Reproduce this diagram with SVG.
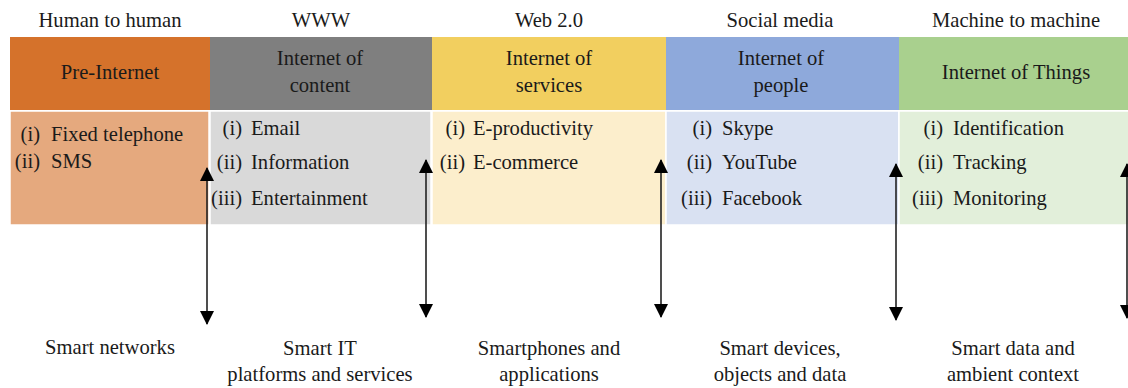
<svg xmlns="http://www.w3.org/2000/svg" width="1128" height="388" viewBox="0 0 1128 388">
<defs>
<style>
text{font-family:"Liberation Serif","Times New Roman",serif;font-size:20.6px;fill:#1a1a1a}
.c{text-anchor:middle}
.n{text-anchor:end}
.lo{stroke:#fff;stroke-width:1.5}
.ar{stroke:#222;stroke-width:1.6;fill:none;marker-start:url(#ah);marker-end:url(#ah)}
</style>
<marker id="ah" viewBox="0 0 14 14" refX="13" refY="7" markerWidth="14" markerHeight="14" markerUnits="userSpaceOnUse" orient="auto-start-reverse">
<path d="M0,0 L14,7 L0,14 Z" fill="#000"/>
</marker>
</defs>
<rect width="1128" height="388" fill="#fff"/>
<g id="col-preinternet">
<text class="c" x="110" y="27">Human to human</text>
<rect x="10" y="37" width="200" height="73" fill="#D5722B"/>
<text class="c" x="110" y="79">Pre-Internet</text>
<rect class="lo" x="10" y="111" width="199" height="114" fill="#E5A97E"/>
<text class="n" x="40" y="141">(i)</text><text x="51" y="141">Fixed telephone</text>
<text class="n" x="40" y="168">(ii)</text><text x="51" y="168">SMS</text>
<text class="c" x="110" y="354">Smart networks</text>
</g>
<g id="col-content">
<text class="c" x="321" y="27">WWW</text>
<rect x="210" y="37" width="222" height="73" fill="#7F7F7F"/>
<text class="c" x="320" y="65">Internet of</text>
<text class="c" x="320" y="92">content</text>
<rect class="lo" x="210" y="111" width="221" height="114" fill="#D9D9D9"/>
<text class="n" x="242" y="135">(i)</text><text x="251" y="135">Email</text>
<text class="n" x="242" y="169">(ii)</text><text x="251" y="169">Information</text>
<text class="n" x="242" y="205">(iii)</text><text x="251" y="205">Entertainment</text>
<text class="c" x="320" y="355">Smart IT</text>
<text class="c" x="320" y="381">platforms and services</text>
</g>
<g id="col-services">
<text class="c" x="549" y="27">Web 2.0</text>
<rect x="432" y="37" width="234" height="73" fill="#F2CF5F"/>
<text class="c" x="549" y="65">Internet of</text>
<text class="c" x="549" y="92">services</text>
<rect class="lo" x="432" y="111" width="234" height="114" fill="#FCEECC"/>
<text class="n" x="465" y="135">(i)</text><text x="473" y="135">E-productivity</text>
<text class="n" x="465" y="169">(ii)</text><text x="473" y="169">E-commerce</text>
<text class="c" x="549" y="355">Smartphones and</text>
<text class="c" x="549" y="381">applications</text>
</g>
<g id="col-people">
<text class="c" x="780" y="27">Social media</text>
<rect x="666" y="37" width="233" height="73" fill="#8EA9DB"/>
<text class="c" x="781" y="65">Internet of</text>
<text class="c" x="781" y="92">people</text>
<rect class="lo" x="666" y="111" width="233" height="114" fill="#D9E1F2"/>
<text class="n" x="712" y="135">(i)</text><text x="722" y="135">Skype</text>
<text class="n" x="712" y="169">(ii)</text><text x="722" y="169">YouTube</text>
<text class="n" x="712" y="205">(iii)</text><text x="722" y="205">Facebook</text>
<text class="c" x="780" y="355">Smart devices,</text>
<text class="c" x="780" y="381">objects and data</text>
</g>
<g id="col-iot">
<text class="c" x="1016" y="27">Machine to machine</text>
<rect x="899" y="37" width="229" height="73" fill="#A9D08E"/>
<text class="c" x="1016" y="79">Internet of Things</text>
<rect class="lo" x="899" y="111" width="230" height="114" fill="#E2EFDA"/>
<text class="n" x="943" y="135">(i)</text><text x="953" y="135">Identification</text>
<text class="n" x="943" y="169">(ii)</text><text x="953" y="169">Tracking</text>
<text class="n" x="943" y="205">(iii)</text><text x="953" y="205">Monitoring</text>
<text class="c" x="1013" y="355">Smart data and</text>
<text class="c" x="1013" y="381">ambient context</text>
</g>
<g id="connectors">
<path class="ar" d="M207,168 V324"/>
<path class="ar" d="M426,160 V317"/>
<path class="ar" d="M661,160 V317"/>
<path class="ar" d="M896,164 V320"/>
<path class="ar" d="M1127,164 V318"/>
</g>
</svg>
